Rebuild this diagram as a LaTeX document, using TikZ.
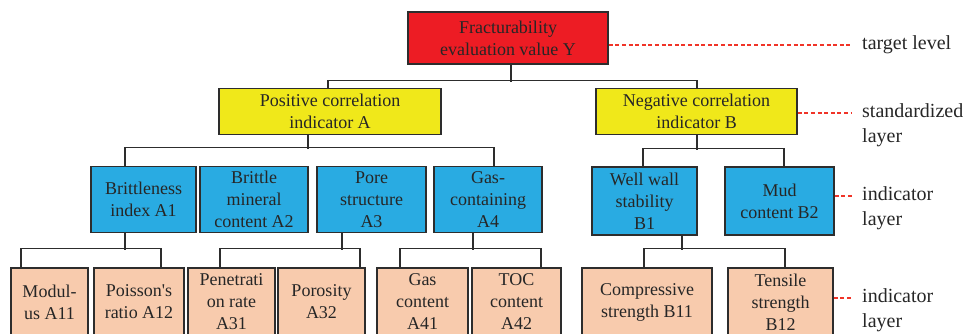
\documentclass[tikz,border=0pt]{standalone}
\usepackage{fontspec}
\setmainfont{Liberation Serif}
\usepackage{tikz}
\definecolor{boxred}{RGB}{237,28,36}
\definecolor{boxyel}{RGB}{240,232,26}
\definecolor{boxblue}{RGB}{41,171,226}
\definecolor{boxora}{RGB}{248,203,173}
\definecolor{edge}{RGB}{45,45,45}
\definecolor{dashred}{RGB}{240,52,40}
\tikzset{
 bx/.style={rectangle,draw=edge,line width=1.5pt,inner sep=0pt,align=center,text=black!85},
 rx/.style={bx,fill=boxred,minimum width=200pt,minimum height=52pt},
 yx/.style={bx,fill=boxyel,minimum height=46pt},
 cx/.style={bx,fill=boxblue,minimum height=66pt},
 ox/.style={bx,fill=boxora,minimum height=68pt},
 ln/.style={draw=edge,line width=1.4pt},
 dl/.style={draw=dashred,line width=1.3pt,dash pattern=on 4pt off 2.6pt,shorten >=10pt},
 lb/.style={anchor=north west,align=left,inner sep=0pt,text=black!85,
  font=\fontsize{20}{25}\selectfont}}

\begin{document}
\begin{tikzpicture}[x=1pt,y=-1pt,font=\fontsize{18}{22}\selectfont]
 \clip (0,0) rectangle (967,333);
 % top and standardized layer
 \node[rx] (y0) at (508,38) {Fracturability\\evaluation value Y};
 \node[yx,minimum width=222pt] (a) at (330,111.5) {Positive correlation\\indicator A};
 \node[yx,minimum width=201pt] (b) at (696.5,111.5) {Negative correlation\\indicator B};
 % indicator layer
 \node[cx,minimum width=105pt] (a1) at (143.5,199.5) {Brittleness\\index A1};
 \node[cx,minimum width=108pt] (a2) at (254,199.5) {Brittle\\mineral\\content A2};
 \node[cx,minimum width=109pt] (a3) at (371.5,199.5) {Pore\\structure\\A3};
 \node[cx,minimum width=108pt] (a4) at (488,199.5) {Gas-\\containing\\A4};
 \node[cx,minimum width=105pt,minimum height=68pt] (b1) at (644.5,201) {Well wall\\stability\\B1};
 \node[cx,minimum width=109pt,minimum height=68pt] (b2) at (779.5,201) {Mud\\content B2};
 % bottom indicator layer
 \node[ox,minimum width=77pt] (a11) at (49.5,302) {Modul-\\us A11};
 \node[ox,minimum width=90pt] (a12) at (139,302) {Poisson\textquotesingle s\\ratio A12};
 \node[ox,minimum width=87pt] (a31) at (231.5,302) {Penetrati\\on rate\\A31};
 \node[ox,minimum width=87pt] (a32) at (321.5,302) {Porosity\\A32};
 \node[ox,minimum width=91pt] (a41) at (422.5,302) {Gas\\content\\A41};
 \node[ox,minimum width=89pt] (a42) at (516.5,302) {TOC\\content\\A42};
 \node[ox,minimum width=130pt] (b11) at (647,302) {Compressive\\strength B11};
 \node[ox,minimum width=105pt] (b12) at (780.5,302) {Tensile\\strength\\B12};
 % connectors
 \draw[ln] ([xshift=3pt]y0.south) -- ++(0,17);
 \draw[ln] ([xshift=-2pt]a.north) -- ++(0,-7) -| ([xshift=0.5pt]b.north);
 \draw[ln] ([xshift=-22pt]a.south) -- ++(0,14);
 \draw[ln] ([xshift=-18.5pt]a1.north) -- ++(0,-18) -| ([xshift=6pt]a4.north);
 \draw[ln] ([xshift=0.5pt]b.south) -- ++(0,15);
 \draw[ln] ([xshift=-1.5pt]b1.north) -- ++(0,-18) -| ([xshift=4.5pt]b2.north);
 \draw[ln] ([xshift=-18.5pt]a1.south) -- ++(0,17);
 \draw[ln] ([xshift=-28.5pt]a11.north) -- ++(0,-19) -| ([xshift=22pt]a12.north);
 \draw[ln] ([xshift=-29.5pt]a3.south) -- ++(0,17);
 \draw[ln] ([xshift=-11.5pt]a31.north) -- ++(0,-19) -| ([xshift=38.5pt]a32.north);
 \draw[ln] ([xshift=-15pt]a4.south) -- ++(0,17);
 \draw[ln] ([xshift=-22.5pt]a41.north) -- ++(0,-19) -| ([xshift=24.5pt]a42.north);
 \draw[ln] ([xshift=37.5pt]b1.south) -- ++(0,14);
 \draw[ln] ([xshift=-3pt]b11.north) -- ++(0,-19) -| ([xshift=4.5pt]b12.north);
 % layer labels (first line sits on the dashed line)
 \node[lb] (l1) at (862,35) {target level};
 \node[lb] (l2) at (862,103) {standardized\\layer};
 \node[lb] (l3) at (862,186) {indicator\\layer};
 \node[lb] (l4) at (862,288) {indicator\\layer};
 \draw[dl] (y0.east |- l1.north west) ++(0,10) -- ([yshift=-10pt]l1.north west);
 \draw[dl] (b.east |- l2.north west) ++(0,10) -- ([yshift=-10pt]l2.north west);
 \draw[dl] (b2.east |- l3.north west) ++(0,10) -- ([yshift=-10pt]l3.north west);
 \draw[dl] (b12.east |- l4.north west) ++(0,10) -- ([yshift=-10pt]l4.north west);
\end{tikzpicture}
\end{document}
